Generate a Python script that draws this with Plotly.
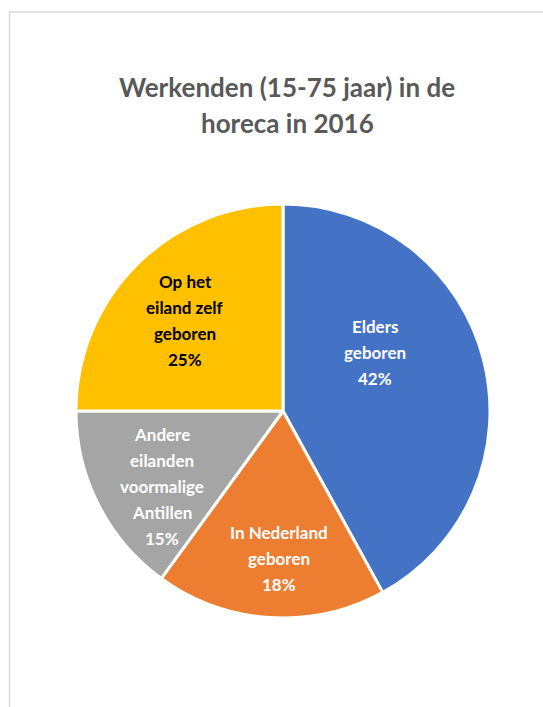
import math
import plotly.graph_objects as go

categories = ["Elders geboren", "In Nederland geboren", "Andere eilanden voormalige Antillen", "Op het eiland zelf geboren"]
label_lines = [["Elders", "geboren"], ["In Nederland", "geboren"],
               ["Andere", "eilanden", "voormalige", "Antillen"], ["Op het", "eiland zelf", "geboren"]]
values = [42, 18, 15, 25]
title_lines = ["Werkenden (15-75 jaar) in de", "horeca in 2016"]

colors = ["#4472C4", "#ED7D31", "#A5A5A5", "#FFC000"]
text_colors = ["white", "white", "white", "black"]

W, H = 543, 707
cx, cy, r = 283, 411, 207
# label placement (fraction of radius, angular shift from slice bisector in degrees)
label_radius = [0.526, 0.715, 0.686, 0.643]
label_shift = [-17.8, -2.1, -4.9, -2.4]
label_size = 17
line_gap = 26

fig = go.Figure(go.Pie(
    labels=categories,
    values=values,
    textinfo="none",
    sort=False,
    direction="clockwise",
    rotation=0,
    marker=dict(colors=colors, line=dict(color="white", width=3)),
    hoverinfo="label+percent",
    domain=dict(x=[(cx - r) / W, (cx + r) / W], y=[(H - cy - r) / H, (H - cy + r) / H]),
    showlegend=False,
))

annotations = []
for i, t in enumerate(title_lines):
    annotations.append(dict(
        text=f"<b>{t}</b>", x=287 / W, y=1 - (87 + 36 * i) / H,
        xref="paper", yref="paper", xanchor="center", yanchor="middle", showarrow=False,
        font=dict(family="Lato", size=26, color="#595959"),
    ))

total = sum(values)
cum = 0
for k, v in enumerate(values):
    mid = (cum + v / 2) / total * 360 + label_shift[k]
    cum += v
    th = math.radians(mid)
    px = cx + label_radius[k] * r * math.sin(th)
    py = cy - label_radius[k] * r * math.cos(th)
    lines = label_lines[k] + [f"{round(v / total * 100)}%"]
    n = len(lines)
    for j, ln in enumerate(lines):
        annotations.append(dict(
            text=f"<b>{ln}</b>", x=px / W, y=1 - py / H,
            xref="paper", yref="paper", xanchor="center", yanchor="middle", showarrow=False,
            yshift=-(j - (n - 1) / 2) * line_gap,
            font=dict(family="Lato", size=label_size, color=text_colors[k]),
        ))

fig.update_layout(
    width=W, height=H,
    margin=dict(l=0, r=0, t=0, b=0),
    paper_bgcolor="white",
    font=dict(family="Lato"),
    showlegend=False,
    annotations=annotations,
    shapes=[dict(type="rect", xref="paper", yref="paper",
                 x0=9.5 / W, x1=1.05, y0=-0.05, y1=1 - 12 / H,
                 line=dict(color="#D9D9D9", width=1.5))],
)

fig.write_html("out.html", config={"displayModeBar": False},
               post_script="document.body.style.margin='0';document.body.style.overflow='hidden';")
